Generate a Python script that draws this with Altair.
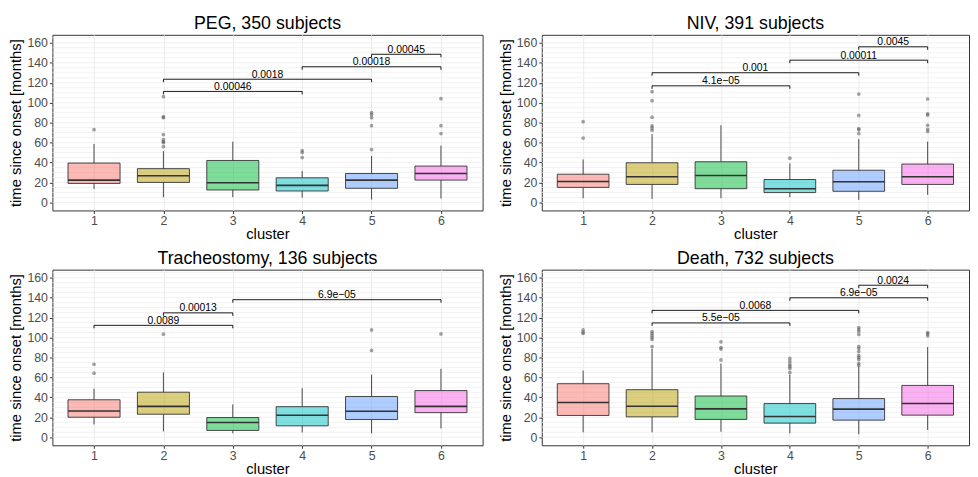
import altair as alt
import pandas as pd

FONT = "Liberation Sans"
CLUSTERS = [1, 2, 3, 4, 5, 6]
COLORS = ["#F8766D", "#B79F00", "#00BA38", "#00BFC4", "#619CFF", "#F564E3"]
TITLES = ["PEG, 350 subjects", "NIV, 391 subjects",
          "Tracheostomy, 136 subjects", "Death, 732 subjects"]
Y_TICKS = [0, 20, 40, 60, 80, 100, 120, 140, 160]
Y_GRID = list(range(0, 170, 5))

# ---- PEG ----
PEG_Q1 = [19.1, 20.1, 12.5, 11.5, 14.2, 22.4]
PEG_MED = [22.4, 26.7, 19.8, 17.1, 22.4, 29.0]
PEG_Q3 = [39.5, 33.9, 42.1, 24.7, 29.0, 36.5]
PEG_LO = [13.5, 5.3, 5.3, 4.9, 3.0, 4.0]
PEG_HI = [58.6, 51.4, 60.9, 31.6, 46.7, 57.0]
PEG_OUT_C = [1, 2, 2, 2, 2, 2, 2, 2, 2, 4, 4, 4, 5, 5, 5, 5, 5, 6, 6, 6]
PEG_OUT_V = [73, 106, 86, 85, 68, 63, 61, 60, 56, 52, 50, 45, 90, 88, 85, 77, 53, 104, 77, 69]
PEG_BR_A = [2, 2, 4, 5]
PEG_BR_B = [4, 5, 6, 6]
PEG_BR_Y = [111.3, 123.5, 136.0, 148.5]
PEG_BR_P = ["0.00046", "0.0018", "0.00018", "0.00045"]

# ---- NIV ----
NIV_Q1 = [15.1, 18.1, 13.8, 9.9, 11.2, 18.1]
NIV_MED = [21.1, 25.7, 27.0, 13.8, 20.7, 25.7]
NIV_Q3 = [28.3, 39.8, 40.8, 23.0, 32.3, 38.5]
NIV_LO = [4.3, 3.6, 4.3, 5.3, 2.6, 7.6]
NIV_HI = [43.1, 68.4, 77.4, 39.2, 63.5, 60.9]
NIV_OUT_C = [1, 1, 2, 2, 2, 2, 2, 2, 4, 5, 5, 5, 5, 5, 6, 6, 6, 6, 6, 6]
NIV_OUT_V = [81, 64.5, 111, 102, 85.5, 76.7, 74.7, 72.4, 44.4, 108.6, 87.2, 74, 72.8, 69.1,
             103.7, 88.9, 87.6, 77.4, 73.4, 71.1]
NIV_BR_A = [2, 2, 4, 5]
NIV_BR_B = [4, 5, 6, 6]
NIV_BR_Y = [116.9, 130.0, 142.6, 156.0]
NIV_BR_P = ["4.1e\u221205", "0.001", "0.00011", "0.0045"]

# ---- Tracheostomy ----
TRA_Q1 = [20.1, 23.1, 6.9, 11.5, 17.8, 24.7]
TRA_MED = [26.4, 31.0, 14.8, 22.1, 26.1, 31.0]
TRA_Q3 = [37.6, 45.2, 19.8, 30.7, 40.9, 46.8]
TRA_LO = [12.9, 5.9, 4.0, 4.9, 4.0, 8.9]
TRA_HI = [48.8, 65.0, 33.0, 49.2, 62.7, 68.6]
TRA_OUT_C = [1, 1, 2, 5, 5, 6]
TRA_OUT_V = [73.2, 64.3, 103.3, 107.6, 87.1, 103.6]
TRA_BR_A = [1, 2, 3]
TRA_BR_B = [3, 3, 6]
TRA_BR_Y = [112.2, 124.7, 137.9]
TRA_BR_P = ["0.0089", "0.00013", "6.9e\u221205"]

# ---- Death ----
DEA_Q1 = [21.9, 20.5, 17.9, 14.2, 17.2, 22.2]
DEA_MED = [34.8, 31.1, 28.5, 20.9, 28.2, 33.8]
DEA_Q3 = [53.7, 47.7, 41.4, 33.8, 38.8, 52.0]
DEA_LO = [5.0, 5.0, 5.6, 4.0, 3.0, 7.3]
DEA_HI = [66.9, 89.0, 73.9, 63.0, 71.0, 90.4]
DEA_OUT_C = [1, 1, 1, 2, 2, 2, 2, 2, 2, 3, 3, 3, 3, 4, 4, 4, 4, 4, 4,
             5, 5, 5, 5, 5, 5, 5, 5, 5, 5, 5, 5, 6, 6, 6]
DEA_OUT_V = [107.6, 105.3, 104, 106, 104, 102, 100, 98, 91, 95.7, 90, 88.4, 77.5,
             79, 76, 73, 71, 69, 65,
             110, 108, 106, 103, 91, 89, 86, 82, 80, 78, 74, 72, 105, 103.7, 101.7]
DEA_BR_A = [2, 2, 4, 5]
DEA_BR_B = [4, 5, 6, 6]
DEA_BR_Y = [114.6, 127.2, 139.8, 152.4]
DEA_BR_P = ["5.5e\u221205", "0.0068", "6.9e\u221205", "0.0024"]

PANELS = [
    (TITLES[0], PEG_Q1, PEG_MED, PEG_Q3, PEG_LO, PEG_HI, PEG_OUT_C, PEG_OUT_V,
     PEG_BR_A, PEG_BR_B, PEG_BR_Y, PEG_BR_P),
    (TITLES[1], NIV_Q1, NIV_MED, NIV_Q3, NIV_LO, NIV_HI, NIV_OUT_C, NIV_OUT_V,
     NIV_BR_A, NIV_BR_B, NIV_BR_Y, NIV_BR_P),
    (TITLES[2], TRA_Q1, TRA_MED, TRA_Q3, TRA_LO, TRA_HI, TRA_OUT_C, TRA_OUT_V,
     TRA_BR_A, TRA_BR_B, TRA_BR_Y, TRA_BR_P),
    (TITLES[3], DEA_Q1, DEA_MED, DEA_Q3, DEA_LO, DEA_HI, DEA_OUT_C, DEA_OUT_V,
     DEA_BR_A, DEA_BR_B, DEA_BR_Y, DEA_BR_P),
]

H = 178
HALF = 0.375
TIP = 3.0

xs = alt.Scale(domain=[0.4, 6.6], nice=False, zero=False)
ys = alt.Scale(domain=[-8, 168], nice=False, zero=False)
fill_scale = alt.Scale(domain=CLUSTERS, range=COLORS)

XAX = alt.Axis(values=CLUSTERS, format="d", title="cluster", grid=True,
               gridColor="#ebebeb", gridWidth=1, labelAngle=0,
               labelPadding=1, titlePadding=0)
YAX = alt.Axis(values=Y_TICKS, title="time since onset [months]", grid=False,
               labelOverlap=False, tickCount=9)


def X(field):
    return alt.X(field, scale=xs, axis=XAX)


def Y(field):
    return alt.Y(field, scale=ys, axis=YAX)


def panel(title, q1, med, q3, lo, hi, oc, ov, ba, bb, by, bp, width):
    box = pd.DataFrame({"cluster": CLUSTERS, "q1": q1, "med": med, "q3": q3,
                        "lo": lo, "hi": hi})
    out = pd.DataFrame({"cluster": oc, "v": ov})
    br = pd.DataFrame({"a": ba, "b": bb, "y": by, "p": bp})
    grid = pd.DataFrame({"g": Y_GRID})

    grid_l = alt.Chart(grid).mark_rule(color="#ececec", strokeWidth=0.7).encode(
        y=Y("g:Q"))

    base = alt.Chart(box).transform_calculate(
        xl="datum.cluster - %f" % HALF, xr="datum.cluster + %f" % HALF)

    wl = base.mark_rule(color="#333333", strokeWidth=0.9).encode(
        x=X("cluster:Q"), y=Y("lo:Q"), y2="q1:Q")
    wh = base.mark_rule(color="#333333", strokeWidth=0.9).encode(
        x=X("cluster:Q"), y=Y("q3:Q"), y2="hi:Q")
    bars = base.mark_bar(fillOpacity=0.5, stroke="#333333", strokeWidth=0.9).encode(
        x=X("xl:Q"), x2="xr:Q", y=Y("q1:Q"), y2="q3:Q",
        fill=alt.Fill("cluster:N", scale=fill_scale, legend=None))
    meds = base.mark_rule(color="#333333", strokeWidth=1.6).encode(
        x=X("xl:Q"), x2="xr:Q", y=Y("med:Q"))
    pts = alt.Chart(out).mark_circle(color="#555555", opacity=0.55, size=14).encode(
        x=X("cluster:Q"), y=Y("v:Q"))

    brb = alt.Chart(br).transform_calculate(
        ytip="datum.y - %f" % TIP, mid="(datum.a + datum.b) / 2")
    hline = brb.mark_rule(color="black", strokeWidth=0.9).encode(
        x=X("a:Q"), x2="b:Q", y=Y("y:Q"))
    tipa = brb.mark_rule(color="black", strokeWidth=0.9).encode(
        x=X("a:Q"), y=Y("ytip:Q"), y2="y:Q")
    tipb = brb.mark_rule(color="black", strokeWidth=0.9).encode(
        x=X("b:Q"), y=Y("ytip:Q"), y2="y:Q")
    txt = brb.mark_text(font=FONT, fontSize=10.5, color="black", baseline="alphabetic",
                        dy=-1.5).encode(
        x=X("mid:Q"), y=Y("y:Q"), text="p:N")

    return alt.layer(grid_l, wl, wh, bars, meds, pts, hline, tipa, tipb, txt).properties(
        width=width, height=H,
        title=alt.TitleParams(text=title, fontSize=18, font=FONT, fontWeight="normal",
                              color="black", anchor="middle", offset=2))


WIDTHS = [436, 433, 436, 433]
charts = [panel(*p, width=w) for p, w in zip(PANELS, WIDTHS)]

chart = alt.vconcat(
    alt.hconcat(charts[0], charts[1], spacing=14),
    alt.hconcat(charts[2], charts[3], spacing=14),
    spacing=7,
).properties(
    padding={"left": 0, "top": 3, "right": 0, "bottom": 0}
).configure_view(
    stroke="#333333", strokeWidth=1
).configure_axis(
    labelFont=FONT, titleFont=FONT, labelFontSize=12.5, titleFontSize=15,
    labelColor="#4d4d4d", titleColor="black", titleFontWeight="normal",
    tickColor="#333333", tickSize=3, domain=False, labelPadding=2, titlePadding=3
)

chart.save("out.html", embed_options={"renderer": "svg", "actions": False})
